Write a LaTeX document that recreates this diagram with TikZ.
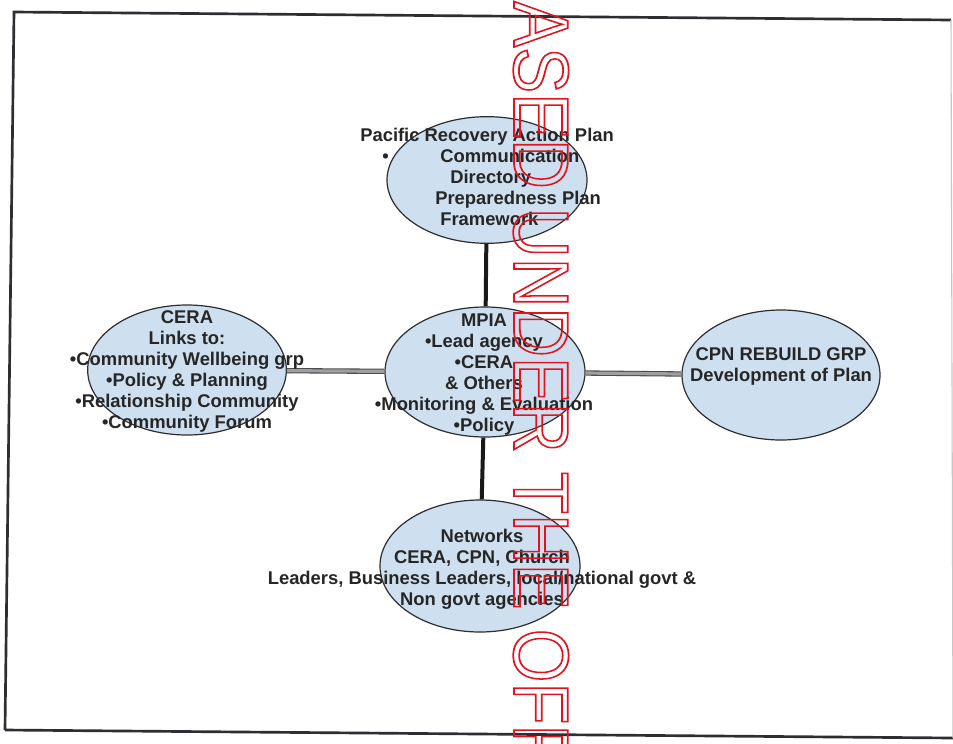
\documentclass[tikz,border=0pt]{standalone}
\usepackage{fontspec}
\setmainfont{Liberation Sans}
\usetikzlibrary{shapes.geometric, positioning}
\definecolor{colorBubble}{RGB}{206, 223, 239}
\definecolor{colorEdge}{RGB}{45, 45, 50}
\definecolor{colorStamp}{RGB}{225, 20, 30}
\tikzstyle{bubble} = [ellipse, draw=colorEdge, line width=0.9pt, fill=colorBubble, inner sep=0pt]
\tikzstyle{bubbletext} = [inner sep=0pt, align=center, text=black!85, font=\bfseries\fontsize{13.8}{15.75}\selectfont]
\tikzstyle{spoke} = [line width=3pt, draw=black!90]
\tikzstyle{link} = [draw=colorEdge!85, line width=0.8pt, double=gray!75, double distance=2.4pt]
% outlined letters for the stamp
\newcommand{\outlined}[1]{\special{pdf:literal direct 1 Tr 1.3 w}#1\special{pdf:literal direct 0 Tr}}

\begin{document}
\begin{tikzpicture}[x=0.75pt, y=-0.75pt]

	\fill[white] (0,0) rectangle (953,743);
	\useasboundingbox (0,0) rectangle (953,743);

	% frame
	\coordinate (frameNW) at (14,12);
	\coordinate (frameNE) at (951,20);
	\coordinate (frameSE) at (953,738);
	\coordinate (frameSW) at (5,730);
	\draw[line width=2pt, draw=colorEdge] (frameSW) -- (frameNW) -- (frameNE);
	\draw[line width=2pt, draw=colorEdge] (frameSW) -- (frameSE);
	\draw[line width=0.8pt, draw=gray!45] (frameNE) -- (frameSE);

	% bubbles
	\node (prap)[bubble, minimum width=150pt, minimum height=95pt] at (487,180) {};
	\node (cera)[bubble, minimum width=149pt, minimum height=97.5pt] at (187,370) {};
	\node (mpia)[bubble, minimum width=150pt, minimum height=97.5pt] at (485,372) {};
	\node (cpn)[bubble, minimum width=148.5pt, minimum height=97.5pt] at (781,375) {};
	\node (netw)[bubble, minimum width=150pt, minimum height=99pt] at (480,566) {};

	% lines
	\draw[spoke] (prap) -- (mpia);
	\draw[spoke] (mpia) -- (netw);
	\draw[link] (cera) -- (mpia);
	\draw[link] (mpia) -- (cpn);

	% texts
	\node (prapText)[bubbletext, align=left, anchor=north west] at (360,128) {Pacific Recovery Action Plan\\
		\hspace*{16.5pt}\makebox[43.5pt][l]{•}Communication\\
		\hspace*{67.5pt}Directory\\
		\hspace*{56.25pt}Preparedness Plan\\
		\hspace*{60pt}Framework};
	\node (ceraText)[bubbletext] at (187,371) {CERA\\ Links to:\\ •Community Wellbeing grp\\ •Policy \& Planning\\ •Relationship Community\\ •Community Forum};
	\node (mpiaText)[bubbletext] at (484,374.5) {MPIA\\ •Lead agency\\ •CERA\\ \& Others\\ •Monitoring \& Evaluation\\ •Policy};
	\node (cpnText)[bubbletext] at (781,366) {CPN REBUILD GRP\\ Development of Plan};
	\node (netwText)[bubbletext] at (482,569) {Networks\\ CERA, CPN, Church\\ Leaders, Business Leaders, local/national govt \&\\ Non govt agencies};

	% stamp
	\node (stamp)[rotate=-90, anchor=base west, inner sep=0pt, text=colorStamp, font=\fontsize{58.7}{60}\selectfont] at (514,1) {\scalebox{0.88}[1]{\outlined{ASED UNDER THE OFF}}};

\end{tikzpicture}
\end{document}
